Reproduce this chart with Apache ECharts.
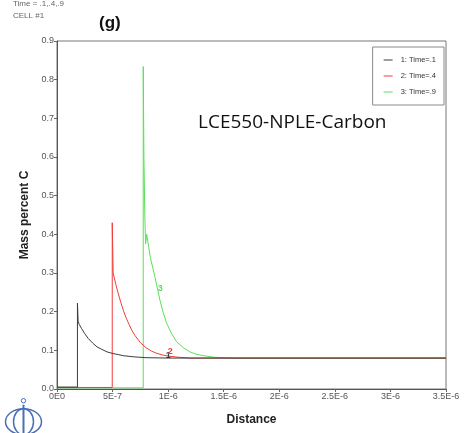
<!DOCTYPE html>
<html><head><meta charset="utf-8">
<script src="https://cdn.jsdelivr.net/npm/echarts@6/dist/echarts.min.js"></script>
<style>html,body{margin:0;padding:0;background:#fff}#c{width:464px;height:433px}</style>
</head><body><div id="c"></div>
<script>
const xTickLabels = ['0E0','5E-7','1E-6','1.5E-6','2E-6','2.5E-6','3E-6','3.5E-6'];
const yTickLabels = ['0.0','0.1','0.2','0.3','0.4','0.5','0.6','0.7','0.8','0.9'];
const seriesNames = ['1: Time=.1','2: Time=.4','3: Time=.9'];
const seriesColors = ['#3c3c3c','#f03c3c','#5ae05a'];
// [distance, mass percent C]
const curve1 = [[0,0.005],[1.84e-7,0.005],[1.84e-7,0.222],[1.9e-7,0.175],[2.0e-7,0.167],[2.2e-7,0.157],[2.5e-7,0.143],[2.8e-7,0.131],[3.2e-7,0.119],[3.6e-7,0.109],[4e-7,0.103],[4.5e-7,0.096],[5e-7,0.092],[5.5e-7,0.089],[6e-7,0.086],[7e-7,0.083],[8e-7,0.081],[9e-7,0.0805],[1e-6,0.08],[3.5e-6,0.08]];
const curve2 = [[0,0.004],[4.97e-7,0.004],[4.97e-7,0.43],[5.05e-7,0.30],[5.3e-7,0.27],[5.5e-7,0.248],[5.75e-7,0.223],[6e-7,0.201],[6.25e-7,0.182],[6.5e-7,0.166],[6.75e-7,0.151],[7e-7,0.139],[7.5e-7,0.12],[8e-7,0.107],[8.5e-7,0.098],[9e-7,0.092],[9.5e-7,0.088],[1e-6,0.085],[1.1e-6,0.082],[1.2e-6,0.08],[3.5e-6,0.08]];
const curve3 = [[0,0.003],[7.76e-7,0.003],[7.76e-7,0.834],[7.82e-7,0.6],[7.9e-7,0.45],[7.97e-7,0.375],[8.07e-7,0.4],[8.4e-7,0.34],[8.81e-7,0.29],[9.26e-7,0.23],[9.55e-7,0.198],[9.87e-7,0.17],[1.03e-6,0.144],[1.076e-6,0.122],[1.14e-6,0.106],[1.196e-6,0.096],[1.25e-6,0.09],[1.32e-6,0.086],[1.42e-6,0.082],[1.6e-6,0.08],[3.5e-6,0.08]];
const curveLabels = [{text:'1', at:[1.0e-6,0.086]},{text:'2', at:[1.02e-6,0.098]},{text:'3', at:[9.3e-7,0.26]}];

const chart = echarts.init(document.getElementById('c'), null, {renderer:'canvas'});
const curves = [curve1, curve2, curve3];
const zs = [5,4,3];
const series = curves.map((d,i)=>({
  name: seriesNames[i], type:'line', data:d, showSymbol:false, symbol:'none',
  z: zs[i], lineStyle:{color:seriesColors[i], width:1}, itemStyle:{color:seriesColors[i]},
  animation:false,
  markPoint:{symbol:'circle', symbolSize:0, silent:true,
    label:{show:true, formatter:curveLabels[i].text, color:seriesColors[i], fontSize:9, fontWeight:'bold', fontFamily:'Liberation Sans'},
    data:[{coord:curveLabels[i].at}]}
}));
chart.setOption({
  animation:false,
  backgroundColor:'#fff',
  grid:{left:57, right:18, top:41, bottom:44, show:true, borderColor:'#777', borderWidth:1},
  title:[
    {text:'Time = .1,.4,.9', left:8, top:-5, textStyle:{fontSize:8, fontWeight:'normal', color:'#666', fontFamily:'Liberation Sans'}},
    {text:'CELL #1', left:8, top:7, textStyle:{fontSize:8, fontWeight:'normal', color:'#666', fontFamily:'Liberation Sans'}},
    {text:'(g)', left:94, top:10, textStyle:{fontSize:17, fontWeight:'bold', color:'#111', fontFamily:'Liberation Sans'}},
    {text:'LCE550-NPLE-Carbon', left:193, top:108, textStyle:{fontSize:19, fontWeight:'normal', color:'#111', fontFamily:'Open Sans'}}
  ],
  legend:{
    orient:'vertical', right:20, top:47, itemWidth:9, itemHeight:1, itemGap:8,
    icon:'rect', padding:[9,8,9,11], borderColor:'#888', borderWidth:1, backgroundColor:'#fff',
    textStyle:{fontSize:7.5, color:'#333', fontFamily:'Liberation Sans', padding:[0,0,0,3]},
    data:seriesNames
  },
  xAxis:{
    type:'value', min:0, max:3.5e-6, interval:5e-7,
    name:'Distance', nameLocation:'middle', nameGap:25,
    nameTextStyle:{fontSize:12, fontWeight:'bold', color:'#222', fontFamily:'Liberation Sans'},
    axisLine:{show:true, lineStyle:{color:'#555'}},
    axisTick:{show:true, length:3, inside:false, lineStyle:{color:'#666'}},
    splitLine:{show:false},
    axisLabel:{fontSize:9, color:'#555', margin:3, fontFamily:'Liberation Sans',
      formatter:(v)=>xTickLabels[Math.round(v/5e-7)]}
  },
  yAxis:{
    type:'value', min:0, max:0.9, interval:0.1,
    name:'Mass percent C', nameLocation:'middle', nameGap:21, nameRotate:90,
    nameTextStyle:{fontSize:12, fontWeight:'bold', color:'#222', fontFamily:'Liberation Sans'},
    axisLine:{show:true, lineStyle:{color:'#555'}},
    axisTick:{show:true, length:3, lineStyle:{color:'#666'}},
    splitLine:{show:false},
    axisLabel:{fontSize:9, color:'#555', margin:3, fontFamily:'Liberation Sans',
      formatter:(v)=>yTickLabels[Math.round(v*10)]}
  },
  graphic:[
    {type:'group', left:3, top:396, children:[
      {type:'ellipse', shape:{cx:20, cy:24, rx:18, ry:13}, style:{fill:'none', stroke:'#4a6fb5', lineWidth:1.5}},
      {type:'ellipse', shape:{cx:20, cy:24, rx:10, ry:13}, style:{fill:'none', stroke:'#4a6fb5', lineWidth:1.5}},
      {type:'line', shape:{x1:20, y1:7, x2:20, y2:40}, style:{stroke:'#4a6fb5', lineWidth:2}},
      {type:'circle', shape:{cx:20, cy:3, r:2.2}, style:{fill:'none', stroke:'#4a6fb5', lineWidth:1}}
    ]}
  ],
  series: series
});
</script></body></html>
